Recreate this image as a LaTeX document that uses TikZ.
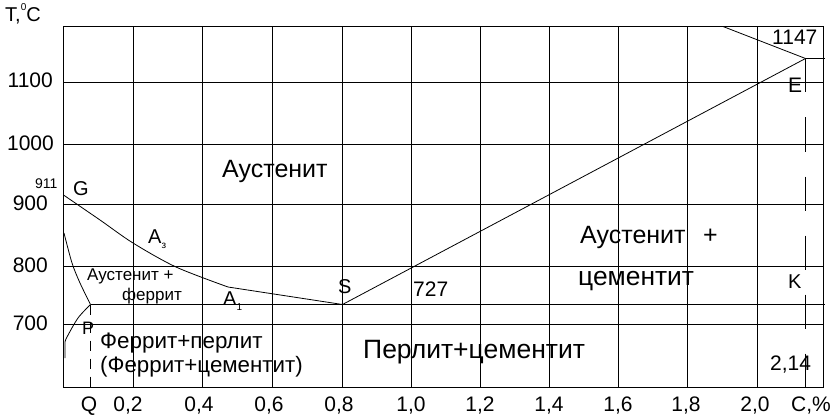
\documentclass[tikz,border=0pt]{standalone}
\usepackage{fontspec}
\setmainfont{Liberation Sans}
\newcommand\myfs[1]{\fontsize{#1}{#1}\selectfont}
\begin{document}
\begin{tikzpicture}[x=1pt,y=-1pt,
  gridline/.style={line width=1.1pt},
  curve/.style={line width=0.8pt},
  dashline/.style={line width=0.9pt, dash pattern=on 34pt off 25pt},
  dashq/.style={line width=0.9pt, dash pattern=on 10pt off 8pt},
  lbl/.style={inner sep=0pt, anchor=base west},
  tick/.style={inner sep=0pt, anchor=base, font=\myfs{21}},
  ytick/.style={inner sep=0pt, anchor=east, font=\myfs{21}}]
\useasboundingbox (0,0) rectangle (837,417);
% frame
\draw[gridline] (63.5,26.5) rectangle (823.5,387.5);
% vertical grid
\foreach \xx in {133,202,272,342,411,480,549,618,687,757} {
  \draw[gridline] (\xx.5,26.5) -- (\xx.5,387.5);
}
% horizontal grid
\foreach \yy in {82,144,204,266,324} {
  \draw[gridline] (63.5,\yy.5) -- (823.5,\yy.5);
}
% key points
\coordinate (G) at (63.5,195);
\coordinate (S) at (342.5,304.5);
\coordinate (E) at (805.5,58.5);
\coordinate (P) at (90.5,304.5);
\coordinate (Q) at (90.5,387.5);
\coordinate (Kb) at (805.5,387.5);
\coordinate (Ctop) at (723,26.5);
\coordinate (Eend) at (825,58.5);
\coordinate (Send) at (825,304.5);
\coordinate (Qb) at (65,358);
% lines
\draw[gridline] (P) -- (Send);
\draw[gridline] (E) -- (Eend);
\draw[curve] (Ctop) -- (E);
\draw[curve] (E) -- (S);
\draw[curve] plot[smooth, tension=0.5] coordinates {(63.5,195) (100,220) (133,243) (176,267) (228,287)} -- (S);
\draw[curve] plot[smooth, tension=0.5] coordinates {(64,233) (72,263) (80,283) (90.5,304.5)};
\draw[curve] plot[smooth, tension=0.5] coordinates {(90.5,304.5) (78,318) (67,337) (65,342)} -- (Qb);
\draw[dashline] (E) -- (Kb);
\draw[dashq] (P) -- (Q);
% axis labels
\node[lbl, font=\myfs{20}] (T) at (5,22) {T,\raisebox{0.55em}{\myfs{10}0}C};
\node[ytick] (y1100) at (53,80) {1100};
\node[ytick] (y1000) at (54,143) {1000};
\node[ytick] (y900) at (48,203) {900};
\node[ytick] (y800) at (48,265) {800};
\node[ytick] (y700) at (48,323) {700};
\node[tick] (xQ) at (89,411) {Q};
\node[tick] (x02) at (128,411) {0,2};
\node[tick] (x04) at (199,411) {0,4};
\node[tick] (x06) at (269,411) {0,6};
\node[tick] (x08) at (339,411) {0,8};
\node[tick] (x10) at (411,411) {1,0};
\node[tick] (x12) at (480,411) {1,2};
\node[tick] (x14) at (549,411) {1,4};
\node[tick] (x16) at (618,411) {1,6};
\node[tick] (x18) at (686,411) {1,8};
\node[tick] (x20) at (755,411) {2,0};
\node[tick] (xC) at (811,411) {C,\%};
% point labels
\node[lbl, font=\myfs{14}] (l911) at (35,188) {911};
\node[lbl, font=\myfs{20}] (lG) at (73,195) {G};
\node[lbl, font=\myfs{20}] (lA3) at (148,243) {А\raisebox{-0.25em}{\myfs{10}з}};
\node[lbl, font=\myfs{20}] (lA1) at (223,305) {А\raisebox{-0.25em}{\myfs{10}1}};
\node[lbl, font=\myfs{20}] (lS) at (338,293) {S};
\node[lbl, font=\myfs{21}] (l727) at (413,296) {727};
\node[lbl, font=\myfs{20}] (lK) at (788,288) {K};
\node[lbl, font=\myfs{21}] (l214) at (770,370) {2,14};
\node[lbl, font=\myfs{21}] (l1147) at (772,45) {1147};
\node[lbl, font=\myfs{21}] (lE) at (788,93) {E};
\node[lbl, font=\myfs{18}] (lP) at (82,334) {P};
% region labels
\node[lbl, font=\myfs{25}] (rA) at (222,177) {Аустенит};
\node[lbl, font=\myfs{17}] (rAF1) at (87,280) {Аустенит +};
\node[lbl, font=\myfs{17}] (rAF2) at (122,300) {феррит};
\node[lbl, font=\myfs{25}] (rAC1) at (580,243) {Аустенит\hspace{0.7em}+};
\node[lbl, font=\myfs{26.4}] (rAC2) at (578,285) {цементит};
\node[lbl, font=\myfs{22.4}] (rFP1) at (100,348) {Феррит+перлит};
\node[lbl, font=\myfs{22.3}] (rFP2) at (100,372) {(Феррит+цементит)};
\node[lbl, font=\myfs{26.5}] (rPC) at (363,358) {Перлит+цементит};
\end{tikzpicture}
\end{document}
